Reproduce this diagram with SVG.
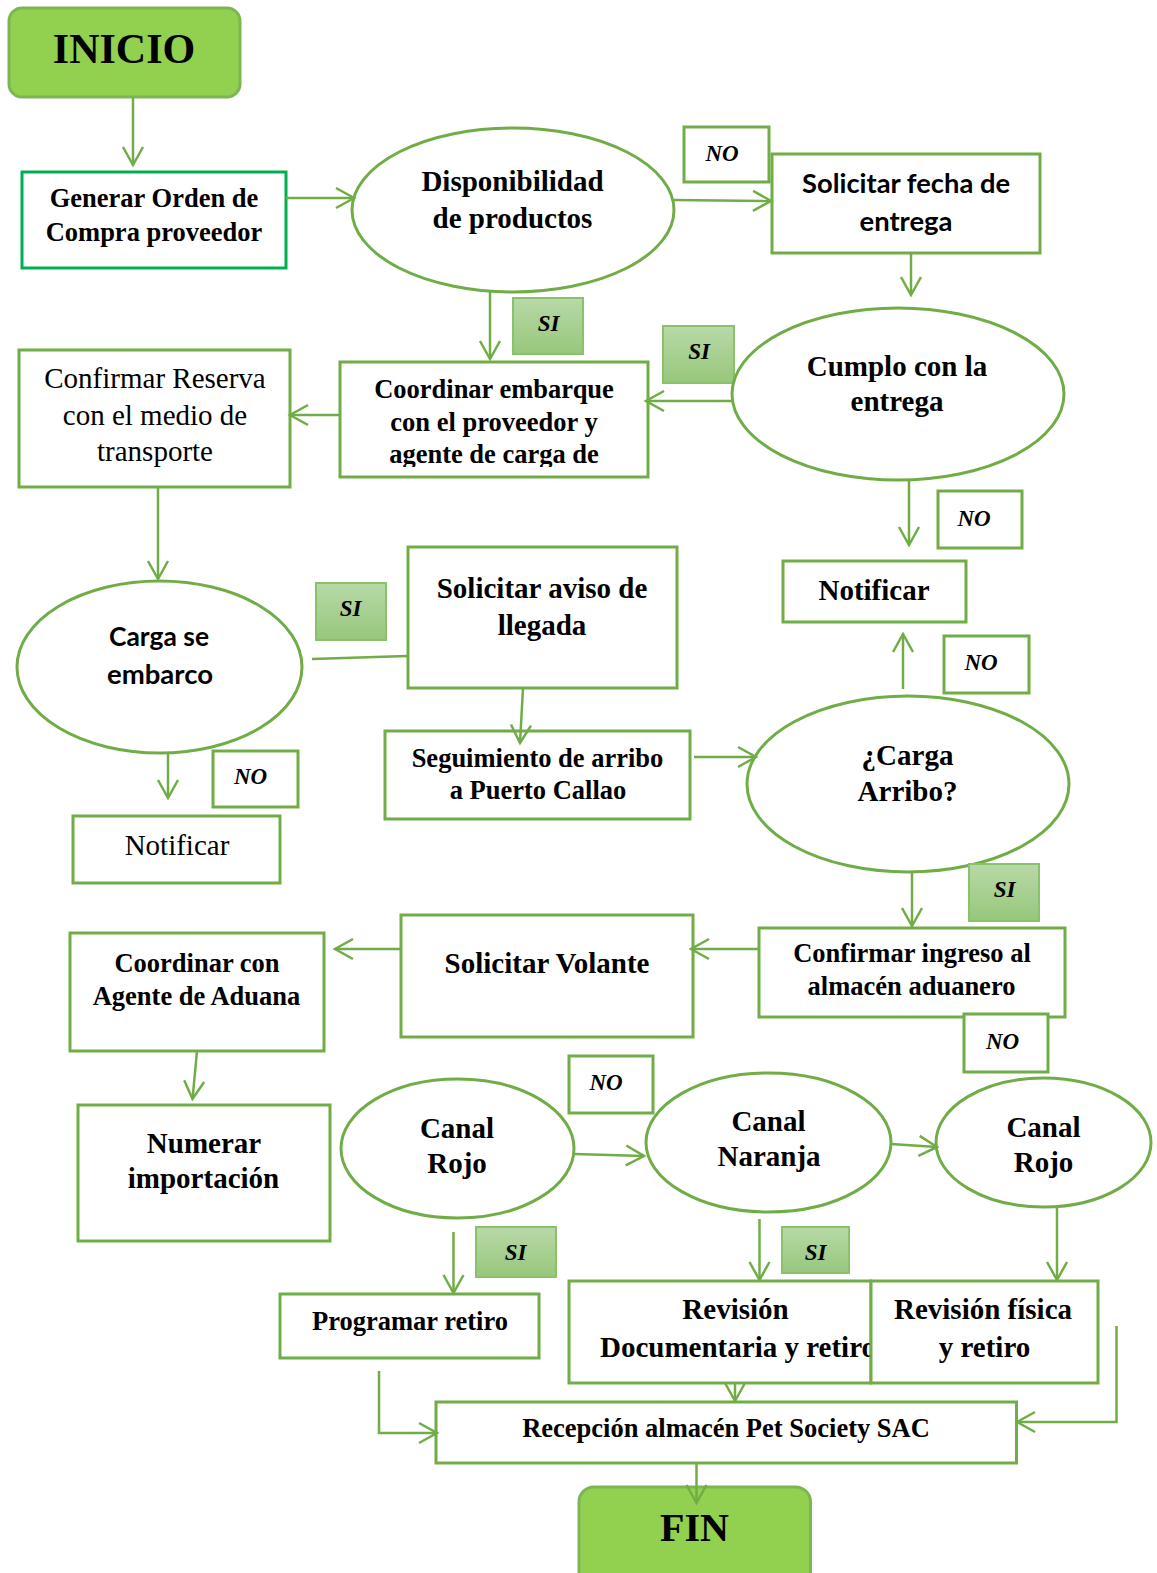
<svg xmlns="http://www.w3.org/2000/svg" width="1157" height="1573" viewBox="0 0 1157 1573">
  <defs>
    <linearGradient id="siFill" x1="0" y1="0" x2="0" y2="1">
      <stop offset="0" stop-color="#b8d9a8"/>
      <stop offset="1" stop-color="#97c77b"/>
    </linearGradient>
    <marker id="arrow" viewBox="0 0 20 20" refX="19" refY="10" markerWidth="20" markerHeight="20" markerUnits="userSpaceOnUse" orient="auto" overflow="visible">
      <path d="M1,0 L19,10 L1,20" fill="none" stroke="#70ad47" stroke-width="2.5"/>
    </marker>
    <clipPath id="clipCoord">
      <rect x="340" y="362" width="308" height="105"/>
    </clipPath>
  </defs>
  <style>
    .box { fill: #ffffff; stroke: #70ad47; stroke-width: 3; }
    .oval { fill: #ffffff; stroke: #70ad47; stroke-width: 3; }
    .tag { fill: #ffffff; stroke: #70ad47; stroke-width: 3; }
    .si { fill: url(#siFill); stroke: #8cc16c; stroke-width: 2; }
    .term { fill: #92d050; stroke: #7db552; stroke-width: 3; }
    .conn { fill: none; stroke: #70ad47; stroke-width: 2.5; }
    text { font-family: "Liberation Serif", "Times New Roman", serif; fill: #000000; text-anchor: middle; }
    .b { font-weight: bold; font-size: 29px; }
    .s { font-weight: bold; font-size: 26.5px; }
    .r { font-weight: normal; font-size: 29px; }
    .sans { font-family: Lato, "Open Sans", "Liberation Sans", sans-serif; font-weight: bold; }
    .lbl { font-weight: bold; font-style: italic; font-size: 23px; }
    .big { font-weight: bold; font-size: 42px; }
  </style>

  <!-- start / end -->
  <g id="inicio">
    <rect class="term" x="9" y="8" width="231" height="89" rx="13"/>
    <text class="big" x="124" y="63">INICIO</text>
  </g>

  <g id="generar-orden">
    <rect x="22" y="172" width="264" height="96" fill="#ffffff" stroke="#00b050" stroke-width="3"/>
    <text class="s" x="154" y="207">Generar Orden de</text>
    <text class="s" x="154" y="241">Compra proveedor</text>
  </g>

  <g id="disponibilidad">
    <ellipse class="oval" cx="513" cy="210" rx="161" ry="82"/>
    <text class="b" x="512.5" y="191">Disponibilidad</text>
    <text class="b" x="512.5" y="228">de productos</text>
  </g>

  <g id="no-1">
    <rect class="tag" x="684" y="127" width="85" height="55"/>
    <text class="lbl" x="722" y="161">NO</text>
  </g>

  <g id="solicitar-fecha">
    <rect class="box" x="772" y="154" width="268" height="99"/>
    <text class="sans" font-size="27" x="906" y="193" textLength="208" lengthAdjust="spacingAndGlyphs">Solicitar fecha de</text>
    <text class="sans" font-size="27" x="906" y="231" textLength="93" lengthAdjust="spacingAndGlyphs">entrega</text>
  </g>

  <g id="si-1">
    <rect class="si" x="513" y="298" width="70" height="56"/>
    <text class="lbl" x="548.5" y="331">SI</text>
  </g>

  <g id="si-2">
    <rect class="si" x="663" y="326" width="71" height="57"/>
    <text class="lbl" x="699" y="359">SI</text>
  </g>

  <g id="cumplo-entrega">
    <ellipse class="oval" cx="898" cy="394" rx="166" ry="86"/>
    <text class="b" x="897" y="376">Cumplo con la</text>
    <text class="b" x="897" y="411">entrega</text>
  </g>

  <g id="coordinar-embarque">
    <rect class="box" x="340" y="362" width="308" height="115"/>
    <g clip-path="url(#clipCoord)">
      <text class="s" x="494" y="398">Coordinar embarque</text>
      <text class="s" x="494" y="431">con el proveedor y</text>
      <text class="s" x="494" y="463">agente de carga de</text>
    </g>
  </g>

  <g id="confirmar-reserva">
    <rect class="box" x="19" y="350" width="271" height="137"/>
    <text class="r" x="155" y="388">Confirmar Reserva</text>
    <text class="r" x="155" y="425">con el medio de</text>
    <text class="r" x="155" y="461">transporte</text>
  </g>

  <g id="no-2">
    <rect class="tag" x="938" y="491" width="84" height="57"/>
    <text class="lbl" x="974" y="526">NO</text>
  </g>

  <g id="notificar-1">
    <rect class="box" x="783" y="561" width="183" height="61"/>
    <text class="b" x="874" y="600">Notificar</text>
  </g>

  <g id="no-3">
    <rect class="tag" x="944" y="636" width="85" height="57"/>
    <text class="lbl" x="981" y="670">NO</text>
  </g>

  <g id="carga-embarco">
    <ellipse class="oval" cx="159.5" cy="667" rx="142.5" ry="86"/>
    <text class="sans" font-size="26" x="159" y="646" textLength="100" lengthAdjust="spacingAndGlyphs">Carga se</text>
    <text class="sans" font-size="26" x="160" y="684" textLength="106" lengthAdjust="spacingAndGlyphs">embarco</text>
  </g>

  <g id="si-3">
    <rect class="si" x="316" y="583" width="70" height="57"/>
    <text class="lbl" x="350.5" y="616">SI</text>
  </g>

  <g id="solicitar-aviso">
    <rect class="box" x="408" y="547" width="269" height="141"/>
    <text class="b" x="542" y="598">Solicitar aviso de</text>
    <text class="b" x="542" y="635">llegada</text>
  </g>

  <g id="no-4">
    <rect class="tag" x="213" y="751" width="85" height="56"/>
    <text class="lbl" x="250.5" y="784">NO</text>
  </g>

  <g id="notificar-2">
    <rect class="box" x="73" y="816" width="207" height="67"/>
    <text class="r" x="177" y="855">Notificar</text>
  </g>

  <g id="seguimiento">
    <rect class="box" x="385" y="731" width="305" height="88"/>
    <text class="s" x="537.5" y="767">Seguimiento de arribo</text>
    <text class="s" x="538" y="799">a Puerto Callao</text>
  </g>

  <g id="carga-arribo">
    <ellipse class="oval" cx="908" cy="784" rx="161" ry="88"/>
    <text class="b" x="907.5" y="765">¿Carga</text>
    <text class="b" x="907.5" y="801">Arribo?</text>
  </g>

  <g id="si-4">
    <rect class="si" x="969" y="864" width="70" height="57"/>
    <text class="lbl" x="1004.5" y="897">SI</text>
  </g>

  <g id="confirmar-ingreso">
    <rect class="box" x="759" y="928" width="306" height="89"/>
    <text class="s" x="912" y="962">Confirmar ingreso al</text>
    <text class="s" x="911.5" y="995">almacén aduanero</text>
  </g>

  <g id="no-5">
    <rect class="tag" x="964" y="1014" width="84" height="58"/>
    <text class="lbl" x="1002.5" y="1049">NO</text>
  </g>

  <g id="solicitar-volante">
    <rect class="box" x="401" y="915" width="292" height="122"/>
    <text class="b" x="547" y="973">Solicitar Volante</text>
  </g>

  <g id="coordinar-agente">
    <rect class="box" x="70" y="933" width="254" height="118"/>
    <text class="s" x="197" y="972">Coordinar con</text>
    <text class="s" x="196.5" y="1005">Agente de Aduana</text>
  </g>

  <g id="numerar">
    <rect class="box" x="78" y="1105" width="252" height="136"/>
    <text class="b" x="204" y="1153">Numerar</text>
    <text class="b" x="203.5" y="1188">importación</text>
  </g>

  <g id="no-6">
    <rect class="tag" x="569" y="1056" width="84" height="57"/>
    <text class="lbl" x="606" y="1090">NO</text>
  </g>

  <g id="canal-rojo-1">
    <ellipse class="oval" cx="457.5" cy="1148.5" rx="116.5" ry="69.5"/>
    <text class="b" x="457" y="1138">Canal</text>
    <text class="b" x="457" y="1173">Rojo</text>
  </g>

  <g id="canal-naranja">
    <ellipse class="oval" cx="768.5" cy="1142.5" rx="122.5" ry="69.5"/>
    <text class="b" x="768.5" y="1131">Canal</text>
    <text class="b" x="769" y="1166">Naranja</text>
  </g>

  <g id="canal-rojo-2">
    <ellipse class="oval" cx="1043.5" cy="1142.5" rx="107.5" ry="64.5"/>
    <text class="b" x="1043.5" y="1137">Canal</text>
    <text class="b" x="1043.5" y="1172">Rojo</text>
  </g>

  <g id="si-5">
    <rect class="si" x="476" y="1227" width="80" height="50"/>
    <text class="lbl" x="515.5" y="1260">SI</text>
  </g>

  <g id="si-6">
    <rect class="si" x="782" y="1227" width="67" height="46"/>
    <text class="lbl" x="815.5" y="1260">SI</text>
  </g>

  <g id="programar-retiro">
    <rect class="box" x="280" y="1294" width="259" height="64"/>
    <text class="s" x="410" y="1330">Programar retiro</text>
  </g>

  <g id="revision-documentaria">
    <rect class="box" x="569" y="1281" width="302" height="102"/>
    <text class="b" x="735.5" y="1319">Revisión</text>
    <text class="b" x="738" y="1357">Documentaria y retiro</text>
  </g>

  <g id="revision-fisica">
    <rect class="box" x="871" y="1281" width="227" height="102"/>
    <text class="b" x="983" y="1319">Revisión física</text>
    <text class="b" x="984.5" y="1357">y retiro</text>
  </g>

  <g id="recepcion">
    <rect class="box" x="436" y="1402" width="580.5" height="61"/>
    <text class="s" x="726" y="1437">Recepción almacén Pet Society SAC</text>
  </g>

  <g id="fin">
    <rect class="term" x="579" y="1487" width="231.5" height="115" rx="15"/>
    <text x="694.5" y="1541" font-weight="bold" font-size="40">FIN</text>
  </g>

  <!-- connectors -->
  <g id="connectors">
    <path class="conn" marker-end="url(#arrow)" d="M133,97 V165"/>
    <path class="conn" marker-end="url(#arrow)" d="M286,198 H354"/>
    <path class="conn" marker-end="url(#arrow)" d="M674,200 L771,201"/>
    <path class="conn" marker-end="url(#arrow)" d="M911,253 V295"/>
    <path class="conn" marker-end="url(#arrow)" d="M732,401 H646"/>
    <path class="conn" marker-end="url(#arrow)" d="M490,292 V359"/>
    <path class="conn" marker-end="url(#arrow)" d="M340,415 H290"/>
    <path class="conn" marker-end="url(#arrow)" d="M158,487 V579"/>
    <path class="conn" marker-end="url(#arrow)" d="M168,753 V798"/>
    <path class="conn" d="M312,659 L407,656"/>
    <path class="conn" marker-end="url(#arrow)" d="M523,688 L520,743"/>
    <path class="conn" marker-end="url(#arrow)" d="M694,757 H756"/>
    <path class="conn" marker-end="url(#arrow)" d="M909,481 V545"/>
    <path class="conn" marker-end="url(#arrow)" d="M903,689 V634"/>
    <path class="conn" marker-end="url(#arrow)" d="M912,873 V926"/>
    <path class="conn" marker-end="url(#arrow)" d="M759,949 H691"/>
    <path class="conn" marker-end="url(#arrow)" d="M401,949 H335"/>
    <path class="conn" marker-end="url(#arrow)" d="M197,1051 L192.5,1099"/>
    <path class="conn" marker-end="url(#arrow)" d="M574,1154 L644,1156"/>
    <path class="conn" marker-end="url(#arrow)" d="M891,1144 L937,1147"/>
    <path class="conn" marker-end="url(#arrow)" d="M453.5,1232 V1293"/>
    <path class="conn" marker-end="url(#arrow)" d="M759.5,1219 V1280"/>
    <path class="conn" marker-end="url(#arrow)" d="M1057,1207 V1280"/>
    <path class="conn" marker-end="url(#arrow)" d="M735,1383 V1401"/>
    <path class="conn" marker-end="url(#arrow)" d="M379,1371 V1433 H437"/>
    <path class="conn" marker-end="url(#arrow)" d="M1116.5,1326 V1422 H1017"/>
    <path class="conn" marker-end="url(#arrow)" d="M696.5,1463 V1503"/>
  </g>
</svg>
